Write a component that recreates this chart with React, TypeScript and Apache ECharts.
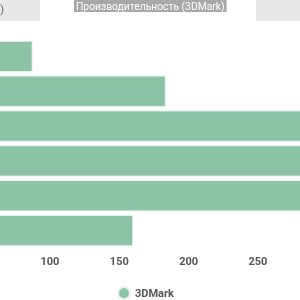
import React, { useEffect, useRef } from "react";
import * as echarts from "echarts";

const categories = ["A", "B", "C", "D", "E", "F"];
const scores = [87.5, 183.5, 320, 330, 310, 160];
const seriesName = "3DMark";
const titleText = "Производительность (3DMark)";

export default function App() {
  const ref = useRef<HTMLDivElement>(null);
  useEffect(() => {
    const chart = echarts.init(ref.current!, null, { renderer: "svg" });
    chart.setOption({
      animation: false,
      textStyle: { fontFamily: "Roboto" },
      title: {
        text: titleText,
        left: 74,
        top: 0,
        padding: [1, 2, 1, 2],
        backgroundColor: "#a8a8a8",
        textStyle: { fontSize: 10.3, color: "#ffffff", fontWeight: "normal", fontFamily: "Roboto" },
      },
      graphic: [
        { type: "rect", left: 0, top: 0, z: -1, shape: { width: 40, height: 21 }, style: { fill: "#e8e8e8" } },
        { type: "rect", left: 256, top: 0, z: -1, shape: { width: 44, height: 21 }, style: { fill: "#e8e8e8" } },
        {
          type: "text",
          x: 4,
          y: 9,
          style: { text: "(руб.)", fill: "#666", fontSize: 11, fontFamily: "Roboto", align: "right", verticalAlign: "middle" },
        },
      ],
      legend: {
        data: [seriesName],
        left: 112,
        top: 281,
        icon: "circle",
        itemWidth: 12,
        itemHeight: 12,
        itemGap: 5,
        textStyle: { fontSize: 11, color: "#555", fontWeight: "bold", fontFamily: "Roboto" },
      },
      grid: { left: -88.7, right: -27.3, top: 39, bottom: 52, containLabel: false, outerBoundsMode: "none" },
      xAxis: {
        type: "value",
        min: 0,
        max: 300,
        interval: 50,
        axisLine: { show: false },
        axisTick: { show: false },
        splitLine: { show: false },
        axisLabel: {
          fontSize: 11,
          color: "#555",
          fontWeight: "bold",
          fontFamily: "Roboto",
          margin: 8,
          formatter: (v: number) => (v < 100 || v > 250 ? "" : String(v)),
        },
      },
      yAxis: {
        type: "category",
        data: categories,
        inverse: true,
        axisLine: { show: false },
        axisTick: { show: false },
        axisLabel: { show: false },
      },
      series: [
        {
          name: seriesName,
          type: "bar",
          data: scores,
          barCategoryGap: "10%",
          itemStyle: { color: "#8cc2a5", borderColor: "#e9f4ee", borderWidth: 1 },
        },
      ],
    });
    return () => chart.dispose();
  }, []);
  return <div ref={ref} style={{ position: "fixed", left: 0, top: 0, width: 300, height: 300 }} />;
}
